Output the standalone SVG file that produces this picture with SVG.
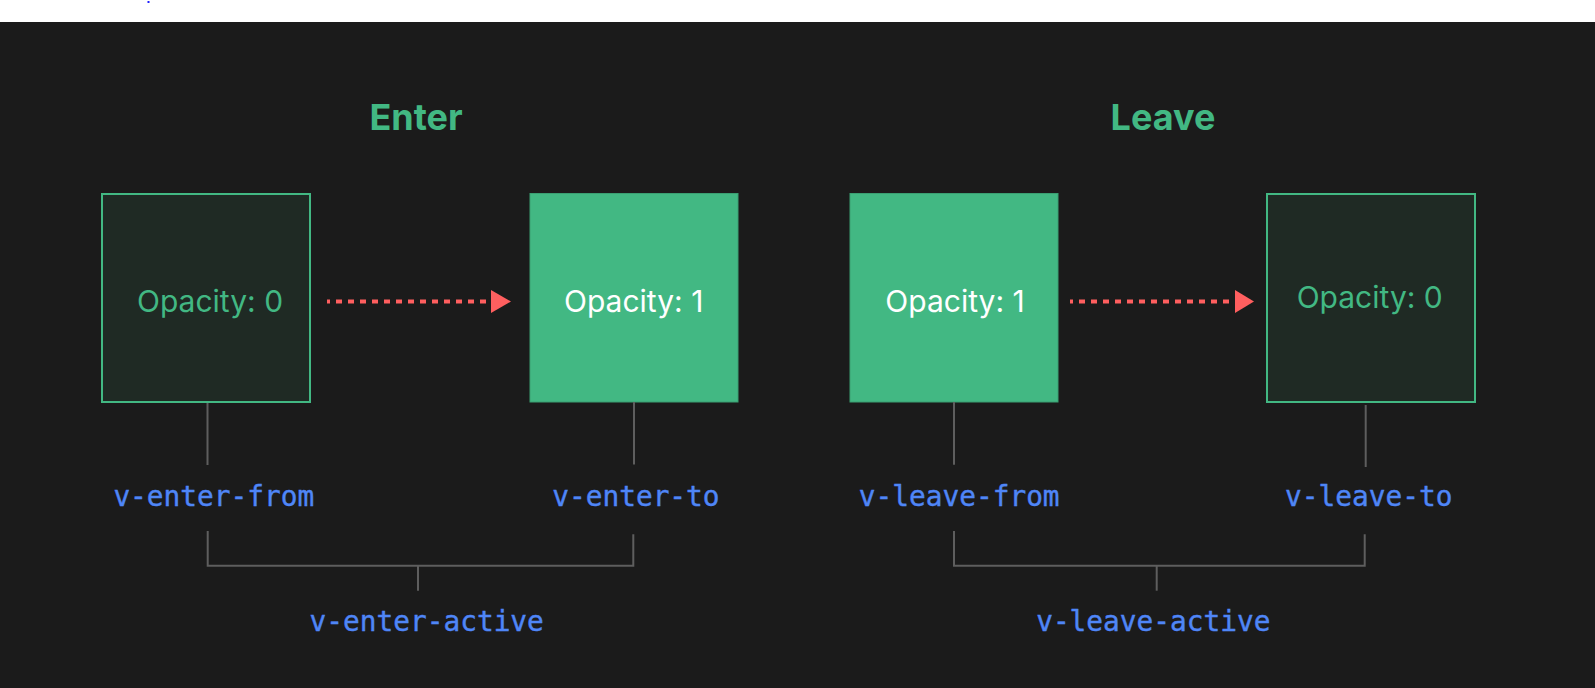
<svg xmlns="http://www.w3.org/2000/svg" width="1595" height="688" viewBox="0 0 1595 688">
  <style>
    .title { font-family: Inter, "Noto Sans", "Liberation Sans", sans-serif; font-weight: 700; font-size: 36px; fill: #42b883; text-anchor: middle; }
    .op { font-family: Inter, "Noto Sans", "Liberation Sans", sans-serif; font-size: 30px; text-anchor: middle; }
    .op0 { fill: #42b883; }
    .op1 { fill: #ffffff; }
    .cls { font-family: "DejaVu Sans Mono", "Liberation Mono", monospace; font-size: 27.8px; fill: #4f86f7; stroke: #4f86f7; stroke-width: 0.4; text-anchor: middle; }
    .empty { fill: #1f2a24; stroke: #42b883; stroke-width: 2; }
    .full { fill: #42b883; stroke: #3a9f72; stroke-width: 1; }
    .lead { fill: none; stroke: #5e5e5e; stroke-width: 2; }
    .flow { stroke: #ff5f5f; stroke-width: 4; stroke-dasharray: 6 6; stroke-dashoffset: 3; fill: none; }
    .head { fill: #ff5f5f; }
  </style>
  <rect x="0" y="0" width="1595" height="22" fill="#ffffff"/>
  <rect x="147.5" y="1" width="2" height="2" fill="#2020ff"/>
  <rect x="0" y="22" width="1595" height="666" fill="#1b1b1b"/>

  <g id="title-enter"><text class="title" x="416" y="129.5">Enter</text></g>
  <g id="title-leave"><text class="title" x="1163" y="130">Leave</text></g>

  <g id="node-enter-from">
    <rect class="empty" x="102" y="194" width="208" height="208"/>
    <text class="op op0" x="210" y="311.7">Opacity: 0</text>
  </g>
  <g id="node-enter-to">
    <rect class="full" x="530" y="193.5" width="208" height="208.5"/>
    <text class="op op1" x="633.7" y="312">Opacity: 1</text>
  </g>
  <g id="node-leave-from">
    <rect class="full" x="850" y="193.5" width="208" height="208.5"/>
    <text class="op op1" x="955" y="311.7">Opacity: 1</text>
  </g>
  <g id="node-leave-to">
    <rect class="empty" x="1267" y="194" width="208" height="208"/>
    <text class="op op0" x="1369.7" y="308.3">Opacity: 0</text>
  </g>

  <g id="connectors">
    <line class="flow" x1="327" y1="301.5" x2="492" y2="301.5"/>
    <polygon class="head" points="491,290 511,301.5 491,313"/>
    <line class="flow" x1="1070" y1="301.5" x2="1236" y2="301.5"/>
    <polygon class="head" points="1235,290 1254,301.5 1235,313"/>

    <line class="lead" x1="207.5" y1="403" x2="207.5" y2="465"/>
    <line class="lead" x1="634" y1="402" x2="634" y2="464.5"/>
    <line class="lead" x1="954" y1="402" x2="954" y2="464.7"/>
    <line class="lead" x1="1365.7" y1="405" x2="1365.7" y2="467"/>

    <path class="lead" d="M207.7 531 V565.7 H633.3 V534.3"/>
    <line class="lead" x1="418" y1="565.7" x2="418" y2="590.7"/>
    <path class="lead" d="M954 531 V565.7 H1364.7 V534.3"/>
    <line class="lead" x1="1156.7" y1="565.7" x2="1156.7" y2="590.7"/>
  </g>

  <g id="label-enter-from"><text class="cls" x="213.8" y="505.7">v-enter-from</text></g>
  <g id="label-enter-to"><text class="cls" x="635.9" y="505.7">v-enter-to</text></g>
  <g id="label-leave-from"><text class="cls" x="959.2" y="505.7">v-leave-from</text></g>
  <g id="label-leave-to"><text class="cls" x="1368.7" y="505.7">v-leave-to</text></g>
  <g id="label-enter-active"><text class="cls" x="426.7" y="631">v-enter-active</text></g>
  <g id="label-leave-active"><text class="cls" x="1153.3" y="631">v-leave-active</text></g>
</svg>
